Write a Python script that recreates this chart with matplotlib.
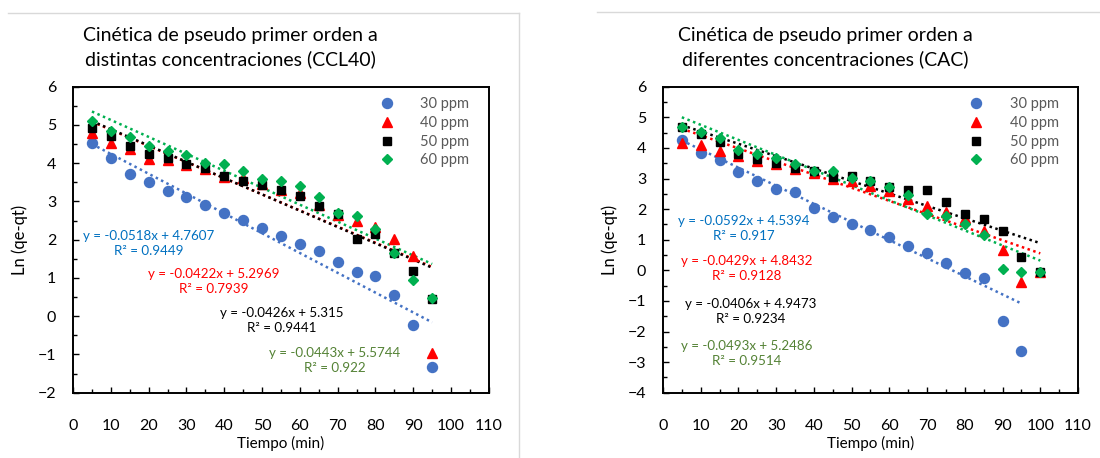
import numpy as np
from matplotlib import pyplot as plt
from matplotlib.lines import Line2D
from matplotlib.ticker import MultipleLocator

plt.rcParams['font.family'] = ['Lato', 'DejaVu Sans']

# Tiempo (min)
t_ccl = [5, 10, 15, 20, 25, 30, 35, 40, 45, 50, 55, 60, 65, 70, 75, 80, 85, 90, 95]
t_cac = [5, 10, 15, 20, 25, 30, 35, 40, 45, 50, 55, 60, 65, 70, 75, 80, 85, 90, 95, 100]

# CCL40 ln(qe-qt)
ccl_30 = [4.52, 4.14, 3.71, 3.52, 3.28, 3.12, 2.90, 2.70, 2.51, 2.30, 2.09, 1.90, 1.70, 1.43, 1.16, 1.06, 0.56, -0.23, -1.32]
ccl_40 = [4.78, 4.54, 4.36, 4.10, 4.08, 3.96, 3.85, 3.65, 3.62, 3.45, 3.30, 3.21, 2.90, 2.65, 2.49, 2.34, 2.01, 1.57, -0.95]
ccl_50 = [4.93, 4.71, 4.46, 4.24, 4.13, 3.97, 3.87, 3.66, 3.53, 3.42, 3.29, 3.14, 2.88, 2.66, 2.02, 2.15, 1.64, 1.17, 0.45]
ccl_60 = [5.11, 4.84, 4.68, 4.45, 4.33, 4.22, 4.00, 3.97, 3.80, 3.58, 3.53, 3.40, 3.12, 2.69, 2.61, 2.28, 1.65, 0.95, 0.48]

# CAC ln(qe-qt)  (30 ppm stops at 95 min)
cac_30 = [4.25, 3.82, 3.60, 3.21, 2.92, 2.67, 2.56, 2.03, 1.73, 1.52, 1.31, 1.09, 0.80, 0.56, 0.24, -0.08, -0.24, -1.67, -2.63]
cac_40 = [4.15, 4.08, 3.91, 3.75, 3.58, 3.46, 3.32, 3.17, 2.99, 2.91, 2.75, 2.60, 2.34, 2.09, 1.91, 1.71, 1.30, 0.68, -0.37, -0.05]
cac_50 = [4.67, 4.46, 4.21, 3.80, 3.64, 3.51, 3.36, 3.23, 3.05, 3.08, 2.93, 2.71, 2.64, 2.64, 2.22, 1.84, 1.69, 1.28, 0.43, -0.05]
cac_60 = [4.70, 4.51, 4.32, 3.94, 3.80, 3.66, 3.47, 3.25, 3.23, 3.01, 2.91, 2.71, 2.45, 1.85, 1.77, 1.53, 1.17, 0.05, -0.05, -0.05]

labels = ['30 ppm', '40 ppm', '50 ppm', '60 ppm']

# trendline coefficients as printed on the chart
ccl_slope = [-0.0518, -0.0422, -0.0426, -0.0443]
ccl_icept = [4.7607, 5.2969, 5.315, 5.5744]
ccl_r2 = ['0.9449', '0.7939', '0.9441', '0.922']
cac_slope = [-0.0592, -0.0429, -0.0406, -0.0493]
cac_icept = [4.5394, 4.8432, 4.9473, 5.2486]
cac_r2 = ['0.917', '0.9128', '0.9234', '0.9514']

markers = ['o', '^', 's', 'D']
msizes = [7.2, 7.2, 6, 5.2]
colors = ['#4472C4', '#FF0000', '#000000', '#00B050']
text_colors = ['#0070C0', '#FF0000', '#000000', '#548235']

fig = plt.figure(figsize=(11, 4.58), dpi=100)


def draw(ax, t_list, series, slopes, icepts, r2s, ylim, eq_pos, title, title_x):
    for i, (t, y) in enumerate(zip(t_list, series)):
        ax.plot(t, y, linestyle='none', marker=markers[i], ms=msizes[i],
                color=colors[i], label=labels[i], zorder=3)
    for i, t in enumerate(t_list):
        xs = np.array([t[0], t[-1]])
        ax.plot(xs, slopes[i] * xs + icepts[i], linestyle=(0, (1, 1.4)),
                color=colors[i], lw=1.8, zorder=2)
    for i, (x, y) in enumerate(eq_pos):
        s = 'y = %gx + %g\nR² = %s' % (slopes[i], icepts[i], r2s[i])
        ax.text(x, y, s, color=text_colors[i], ha='center', va='center',
                fontsize=9.6, linespacing=1.3)

    ax.set_xlim(0, 110)
    ax.set_ylim(*ylim)
    ax.xaxis.set_major_locator(MultipleLocator(10))
    ax.xaxis.set_minor_locator(MultipleLocator(5))
    ax.yaxis.set_major_locator(MultipleLocator(1))
    ax.yaxis.set_minor_locator(MultipleLocator(0.5))
    ax.tick_params(which='major', direction='in', length=4, width=1,
                   labelsize=11.5)
    ax.tick_params(which='minor', direction='in', length=3, width=1)
    ax.tick_params(axis='x', pad=19)
    ax.tick_params(axis='y', pad=12)
    for sp in ax.spines.values():
        sp.set_linewidth(1.4)
    ax.set_xlabel('Tiempo (min)', fontsize=11, labelpad=2)
    ax.set_ylabel('Ln (qe-qt)', fontsize=12, labelpad=7)
    ax.legend(loc='upper right', frameon=False, fontsize=10.5,
              handletextpad=1.3, labelspacing=0.32,
              bbox_to_anchor=(0.985, 1.008), labelcolor='#595959')
    fig.text(title_x, 0.896, title, ha='center', va='center', fontsize=14,
             linespacing=1.45)


ax1 = fig.add_axes([0.0664, 0.1426, 0.378, 0.668])
draw(ax1, [t_ccl] * 4, [ccl_30, ccl_40, ccl_50, ccl_60], ccl_slope, ccl_icept,
     ccl_r2, (-2, 6), [(20, 1.9), (37.3, 0.92), (55.2, -0.1), (69.3, -1.16)],
     'Cinética de pseudo primer orden a\ndistintas concentraciones (CCL40)',
     230 / 1100)

ax2 = fig.add_axes([0.6027, 0.1426, 0.3773, 0.668])
draw(ax2, [t_cac[:19], t_cac, t_cac, t_cac], [cac_30, cac_40, cac_50, cac_60],
     cac_slope, cac_icept, cac_r2, (-4, 6),
     [(21.4, 1.36), (22.3, 0.07), (23.2, -1.34), (22.3, -2.73)],
     'Cinética de pseudo primer orden a\ndiferentes concentraciones (CAC)',
     825 / 1100)

# chart area borders
fig.add_artist(Line2D([8 / 1100, 519 / 1100], [1 - 13 / 458] * 2, color='#D9D9D9', lw=1))
fig.add_artist(Line2D([519 / 1100] * 2, [0, 1 - 13 / 458], color='#D9D9D9', lw=1))
fig.add_artist(Line2D([597 / 1100, 1], [1 - 12 / 458] * 2, color='#D9D9D9', lw=1))

fig.savefig('out.png', dpi=100)
